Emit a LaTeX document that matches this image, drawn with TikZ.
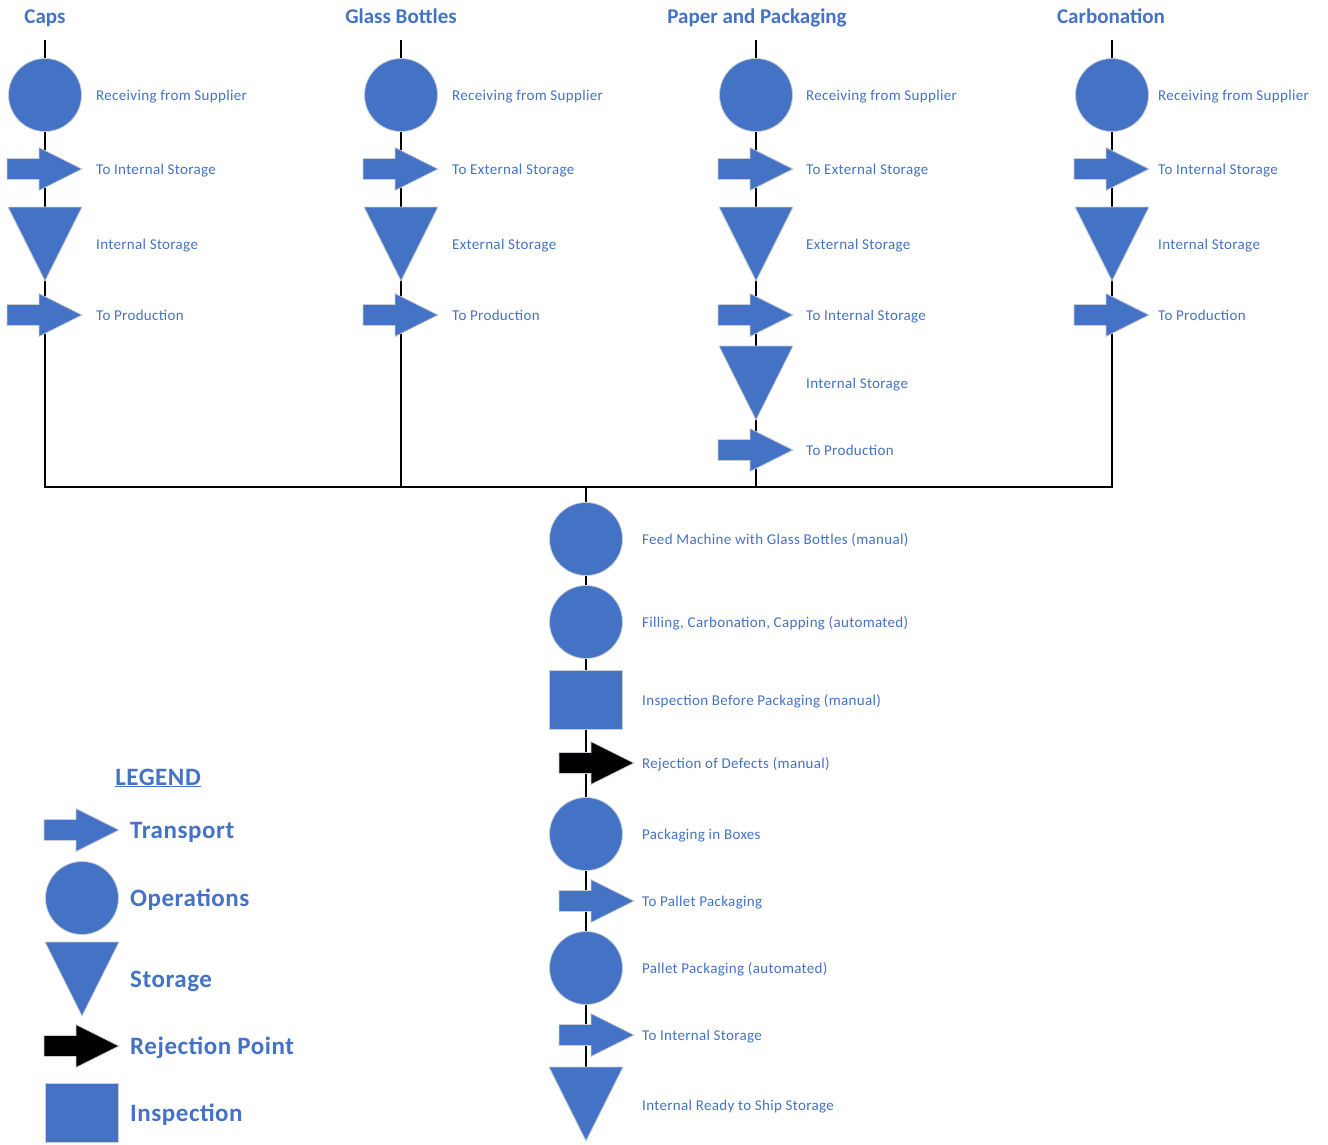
\documentclass[tikz,border=0pt]{standalone}
\usepackage{fontspec}
\setmainfont{Carlito}
\newfontfamily\spacedfont[LetterSpace=2.2]{Carlito}
\definecolor{flowblue}{HTML}{4472C4}
\definecolor{rimgray}{HTML}{C8CDD6}

\tikzset{
  opcircle/.style={circle, fill=flowblue, draw=rimgray, line width=0.8pt, minimum size=73pt, inner sep=0pt},
  inspbox/.style={rectangle, fill=flowblue, draw=rimgray, line width=0.8pt, minimum width=73pt, minimum height=59pt, inner sep=0pt},
  steplabel/.style={anchor=west, inner sep=0pt, text=flowblue, text height=10pt, text depth=0pt, font=\spacedfont\fontsize{15}{18}\selectfont},
  coltitle/.style={anchor=base, inner sep=0pt, text=flowblue, font=\fontsize{21}{25}\selectfont\bfseries},
  legendlabel/.style={anchor=west, inner sep=0pt, text=flowblue, text height=16pt, text depth=0pt, font=\spacedfont\fontsize{25}{30}\selectfont\bfseries},
  flowline/.style={line width=2pt, black},
  % block arrow, placed at its tip
  pics/transport/.style={code={
    \path[fill=#1, draw=rimgray, line width=0.8pt]
      (-75,-10.5) -- (-43,-10.5) -- (-43,-21.5) -- (0,0) -- (-43,21.5)
      -- (-43,10.5) -- (-75,10.5) -- cycle;}},
  % downward triangle, placed at the middle of its top edge
  pics/storage/.style={code={
    \path[fill=flowblue, draw=rimgray, line width=0.8pt]
      (-37,0) -- (37,0) -- (0,74) -- cycle;}},
}

\begin{document}
\begin{tikzpicture}[x=1pt, y=-1pt]
\useasboundingbox (0,0) rectangle (1328,1144);

% ---------- flow lines ----------
\coordinate (capsTop)  at (45,40);
\coordinate (capsJoin) at (45,487);
\coordinate (glassTop)  at (401,40);
\coordinate (glassJoin) at (401,487);
\coordinate (paperTop)  at (756,40);
\coordinate (paperJoin) at (756,487);
\coordinate (carbTop)  at (1112,40);
\coordinate (carbJoin) at (1112,487);
\coordinate (mainJoin) at (586,487);
\coordinate (mainEnd)  at (586,1067);

\draw[flowline] (capsTop) -- (capsJoin) -- (carbJoin) -- (carbTop);
\draw[flowline] (glassTop) -- (glassJoin);
\draw[flowline] (paperTop) -- (paperJoin);
\draw[flowline] (mainJoin) -- (mainEnd);

% ---------- column titles ----------
\node[coltitle] (tCaps)  at (45,23)   {Caps};
\node[coltitle] (tGlass) at (401,23)  {Glass Bottles};
\node[coltitle] (tPaper) at (757,23)  {Paper and Packaging};
\node[coltitle] (tCarb)  at (1111,23) {Carbonation};

% ---------- Caps ----------
\node[opcircle] (capsRecv) at (45,95) {};
\pic at (82,169) {transport=flowblue};
\pic at (45,207) {storage};
\pic at (82,315) {transport=flowblue};
\node[steplabel] (capsL1) at (96,95)  {Receiving from Supplier};
\node[steplabel] (capsL2) at (96,169) {To Internal Storage};
\node[steplabel] (capsL3) at (96,244) {Internal Storage};
\node[steplabel] (capsL4) at (96,315) {To Production};

% ---------- Glass Bottles ----------
\node[opcircle] (glassRecv) at (401,95) {};
\pic at (438,169) {transport=flowblue};
\pic at (401,207) {storage};
\pic at (438,315) {transport=flowblue};
\node[steplabel] (glassL1) at (452,95)  {Receiving from Supplier};
\node[steplabel] (glassL2) at (452,169) {To External Storage};
\node[steplabel] (glassL3) at (452,244) {External Storage};
\node[steplabel] (glassL4) at (452,315) {To Production};

% ---------- Paper and Packaging ----------
\node[opcircle] (paperRecv) at (756,95) {};
\pic at (793,169) {transport=flowblue};
\pic at (756,207) {storage};
\pic at (793,315) {transport=flowblue};
\pic at (756,346) {storage};
\pic at (793,450) {transport=flowblue};
\node[steplabel] (paperL1) at (806,95)  {Receiving from Supplier};
\node[steplabel] (paperL2) at (806,169) {To External Storage};
\node[steplabel] (paperL3) at (806,244) {External Storage};
\node[steplabel] (paperL4) at (806,315) {To Internal Storage};
\node[steplabel] (paperL5) at (806,383) {Internal Storage};
\node[steplabel] (paperL6) at (806,450) {To Production};

% ---------- Carbonation ----------
\node[opcircle] (carbRecv) at (1112,95) {};
\pic at (1149,169) {transport=flowblue};
\pic at (1112,207) {storage};
\pic at (1149,315) {transport=flowblue};
\node[steplabel] (carbL1) at (1158,95)  {Receiving from Supplier};
\node[steplabel] (carbL2) at (1158,169) {To Internal Storage};
\node[steplabel] (carbL3) at (1158,244) {Internal Storage};
\node[steplabel] (carbL4) at (1158,315) {To Production};

% ---------- main production line ----------
\node[opcircle] (feed)   at (586,539) {};
\node[opcircle] (fill)   at (586,622) {};
\node[inspbox]  (insp)   at (586,700) {};
\pic at (634,763) {transport=black};
\node[opcircle] (boxes)  at (586,834) {};
\pic at (634,901) {transport=flowblue};
\node[opcircle] (pallet) at (586,968) {};
\pic at (634,1035) {transport=flowblue};
\pic at (586,1067) {storage};

\node[steplabel] (mainL1) at (642,539)  {Feed Machine with Glass Bottles (manual)};
\node[steplabel] (mainL2) at (642,622)  {Filling, Carbonation, Capping (automated)};
\node[steplabel] (mainL3) at (642,700)  {Inspection Before Packaging (manual)};
\node[steplabel] (mainL4) at (642,763)  {Rejection of Defects (manual)};
\node[steplabel] (mainL5) at (642,834)  {Packaging in Boxes};
\node[steplabel] (mainL6) at (642,901)  {To Pallet Packaging};
\node[steplabel] (mainL7) at (642,968)  {Pallet Packaging (automated)};
\node[steplabel] (mainL8) at (642,1035) {To Internal Storage};
\node[steplabel] (mainL9) at (642,1105) {Internal Ready to Ship Storage};

% ---------- legend ----------
\node[anchor=base, inner sep=0pt, text=flowblue, font=\spacedfont\fontsize{25}{30}\selectfont\bfseries] (legTitle) at (158,785) {\underline{LEGEND}};
\pic at (119,830) {transport=flowblue};
\node[opcircle] (legOp) at (82,898) {};
\pic at (82,942) {storage};
\pic at (119,1046) {transport=black};
\node[inspbox] (legInsp) at (82,1112.5) {};

\node[legendlabel] (legL1) at (130,830)  {Transport};
\node[legendlabel] (legL2) at (130,898)  {Operations};
\node[legendlabel] (legL3) at (130,979)  {Storage};
\node[legendlabel] (legL4) at (130,1046) {Rejection Point};
\node[legendlabel] (legL5) at (130,1113) {Inspection};
\end{tikzpicture}
\end{document}
